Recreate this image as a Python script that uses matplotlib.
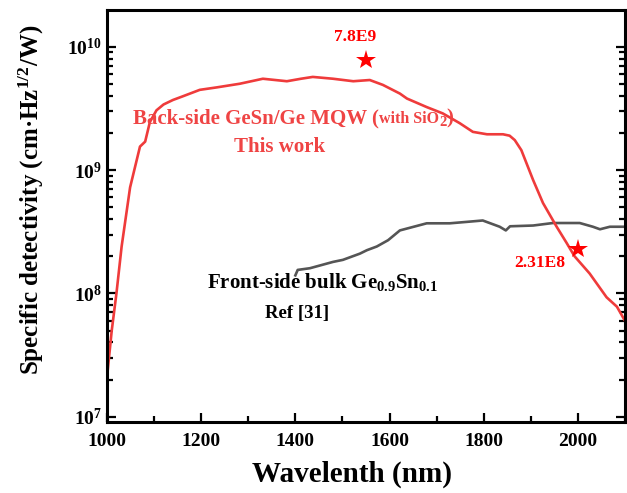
import matplotlib
matplotlib.use('Agg')
import matplotlib.pyplot as plt
from matplotlib.ticker import LogLocator, MultipleLocator, NullFormatter
from matplotlib.offsetbox import TextArea, HPacker, AnnotationBbox

plt.rcParams['font.family'] = 'Liberation Serif'
plt.rcParams['font.weight'] = 'bold'
plt.rcParams['mathtext.fontset'] = 'custom'
plt.rcParams['mathtext.rm'] = 'Liberation Serif:bold'
plt.rcParams['mathtext.bf'] = 'Liberation Serif:bold'
plt.rcParams['mathtext.it'] = 'Liberation Serif:bold'
plt.rcParams['mathtext.default'] = 'bf'

# back-side GeSn/Ge MQW (this work)
wl_mqw = [1000, 1010, 1020, 1031, 1049, 1070, 1081, 1091, 1105, 1120, 1140,
          1160, 1197, 1233, 1282, 1331, 1382, 1412, 1437, 1480, 1523, 1558,
          1586, 1622, 1637, 1679, 1713, 1749, 1777, 1807, 1841, 1855, 1866,
          1880, 1905, 1926, 1955, 1976, 1993, 2025, 2061, 2083, 2100]
d_mqw = [2.09e7, 5.0e7, 1.0e8, 2.4e8, 7.24e8, 1.55e9, 1.70e9, 2.45e9, 3.05e9,
         3.4e9, 3.7e9, 3.95e9, 4.47e9, 4.68e9, 5.01e9, 5.50e9, 5.25e9,
         5.50e9, 5.69e9, 5.50e9, 5.25e9, 5.37e9, 4.90e9, 4.17e9, 3.80e9,
         3.24e9, 2.88e9, 2.40e9, 2.04e9, 1.95e9, 1.95e9, 1.90e9, 1.75e9,
         1.45e9, 8.3e8, 5.4e8, 3.47e8, 2.57e8, 2.0e8, 1.45e8, 9.3e7, 7.8e7,
         6.0e7]

# front-side bulk Ge0.9Sn0.1, ref [31]
wl_ref = [1400, 1405, 1431, 1480, 1501, 1537, 1552, 1573, 1597, 1622, 1679,
          1728, 1764, 1798, 1834, 1847, 1856, 1905, 1947, 2004, 2032, 2047,
          2068, 2100]
d_ref = [1.4e8, 1.55e8, 1.6e8, 1.8e8, 1.87e8, 2.1e8, 2.24e8, 2.4e8, 2.7e8,
         3.24e8, 3.7e8, 3.7e8, 3.8e8, 3.9e8, 3.47e8, 3.24e8, 3.5e8, 3.55e8,
         3.72e8, 3.72e8, 3.47e8, 3.31e8, 3.47e8, 3.47e8]

star_wl = [1550, 2000]
star_d = [7.8e9, 2.31e8]
star_txt = ['7.8E9', '2.31E8']

fig = plt.figure(figsize=(6.27, 4.93), dpi=100)
ax = fig.add_axes([0.1707, 0.144, 0.826, 0.836])

ax.plot(wl_ref, d_ref, color='#555555', lw=1.9)
ax.plot(wl_mqw, d_mqw, color='#ef3b3b', lw=1.9)
ax.plot(star_wl, star_d, ls='none', marker='*', ms=15, color='#ff0000',
        markeredgewidth=0)

ax.set_yscale('log')
ax.set_xlim(1000, 2100)
ax.set_ylim(9.06e6, 1.99e10)
ax.xaxis.set_major_locator(MultipleLocator(200))
ax.xaxis.set_minor_locator(MultipleLocator(100))
ax.yaxis.set_major_locator(LogLocator(base=10, numticks=10))
ax.yaxis.set_minor_locator(LogLocator(base=10, subs=range(2, 10), numticks=20))
ax.yaxis.set_minor_formatter(NullFormatter())

ax.tick_params(which='both', direction='in', labelsize=14, width=1.6,
               right=True, top=False)
ax.tick_params(which='major', length=6.5)
ax.tick_params(which='minor', length=4)
ax.tick_params(axis='x', pad=8)
for s in ax.spines.values():
    s.set_linewidth(2.2)

ax.set_xlabel('Wavelenth (nm)', fontsize=21, fontweight='bold')
ax.xaxis.set_label_coords(0.473, -0.095)
ax.set_ylabel('Specific detectivity (cm\u00b7Hz$^{1/2}$/W)', fontsize=18,
              fontweight='bold')
ax.yaxis.set_label_coords(-0.118, 0.539)

# star labels
ax.text(1527, 10**10.08, star_txt[0], color='#ff0000', fontsize=12.5,
        ha='center', va='center', fontweight='bold')
ax.text(1919, 10**8.25, star_txt[1], color='#ff0000', fontsize=12.5,
        ha='center', va='center', fontweight='bold')

# this work label
red_t = '#ef4444'
big = TextArea('Back-side GeSn/Ge MQW (',
               textprops=dict(color=red_t, fontsize=15, fontweight='bold'))
small = TextArea('with SiO',
                 textprops=dict(color=red_t, fontsize=11.5, fontweight='bold'))
tail = TextArea('$_2$)',
                textprops=dict(color=red_t, fontsize=15, fontweight='bold'))
pack = HPacker(children=[big, small, tail], align='baseline', pad=0, sep=0)
ab = AnnotationBbox(pack, (1397, 10**9.42), xycoords='data', frameon=False,
                    box_alignment=(0.5, 0.5))
ax.add_artist(ab)
ax.text(1367, 10**9.186, 'This work', color=red_t, fontsize=15,
        ha='center', va='center', fontweight='bold')

# reference label
ax.text(1212, 10**8.04, 'Front-side bulk Ge$_{0.9}$Sn$_{0.1}$', fontsize=15,
        ha='left', va='baseline', fontweight='bold')
ax.text(1335, 10**7.80, 'Ref [31]', fontsize=13.5,
        ha='left', va='baseline', fontweight='bold')

fig.savefig('out.png', dpi=100)
